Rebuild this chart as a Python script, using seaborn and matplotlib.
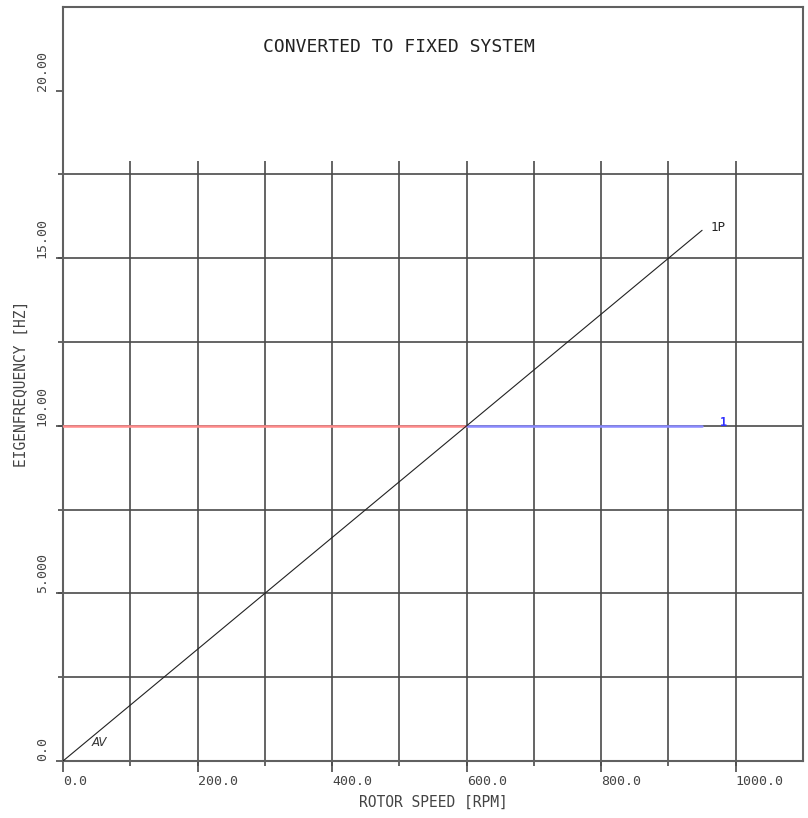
import matplotlib
matplotlib.use("Agg")
import matplotlib.pyplot as plt
import seaborn as sns
import numpy as np
import pandas as pd

# ---- data ----
rpm_1p = [0.0, 950.0]
freq_1p = [0.0, 15.83]
rpm_mode_red = [0.0, 600.0]
rpm_mode_blue = [600.0, 950.0]
freq_mode = [10.0, 10.0]
x_ticks = [0, 200, 400, 600, 800, 1000]
x_tick_labels = ["0.0", "200.0", "400.0", "600.0", "800.0", "1000.0"]
y_ticks = [0, 5, 10, 15, 20]
y_tick_labels = ["0.0", "5.000", "10.00", "15.00", "20.00"]
grid_x = [100, 200, 300, 400, 500, 600, 700, 800, 900, 1000]
grid_y = [2.5, 5.0, 7.5, 10.0, 12.5, 15.0, 17.5]

sns.set_style("white")
plt.rcParams['font.family'] = ['DejaVu Sans Mono', 'DejaVu Sans']

fig = plt.figure(figsize=(8.08, 8.18), dpi=100)
ax = fig.add_axes([63/808, 1-761/818, (803-63)/808, (761-6.7)/818])
ax.set_xlim(0, 1100)
ax.set_ylim(0, 22.5)

gcol = "#4a4a4a"
# grid (only up to 17.5)
ax.vlines(grid_x, -0.15, 17.9, colors=gcol, linewidth=1.2, clip_on=False, zorder=1)
ax.hlines(grid_y, -8, 1100, colors=gcol, linewidth=1.2, clip_on=False, zorder=1)

df1 = pd.DataFrame({"rpm": rpm_1p, "freq": freq_1p})
sns.lineplot(data=df1, x="rpm", y="freq", color="#222222", linewidth=0.8, ax=ax, zorder=4)
dfr = pd.DataFrame({"rpm": rpm_mode_red, "freq": freq_mode})
sns.lineplot(data=dfr, x="rpm", y="freq", color="#ff8a8a", linewidth=1.8, ax=ax, zorder=3)
dfb = pd.DataFrame({"rpm": rpm_mode_blue, "freq": freq_mode})
sns.lineplot(data=dfb, x="rpm", y="freq", color="#8a8aff", linewidth=1.8, ax=ax, zorder=3)

ax.text(963, 15.9, "1P", fontsize=9, color="#222222", ha="left", va="center")
ax.text(42, 0.55, "AV", fontsize=8.5, color="#333333", ha="left", va="center", style="italic",
        family="DejaVu Sans")
ax.text(982, 10.1, "1", fontsize=8.5, color="#3030ff", ha="center", va="center", fontweight="bold")
ax.text(500, 21.3, "CONVERTED TO FIXED SYSTEM", fontsize=13, color="#222222",
        ha="center", va="center")

ax.set_xticks(x_ticks)
ax.set_xticklabels(x_tick_labels, ha="left", fontsize=9.5, color="#444444")
ax.set_yticks(y_ticks)
ax.set_yticklabels(y_tick_labels, rotation=90, fontsize=9.5, color="#444444",
                   va="bottom", ha="center")
ax.tick_params(axis="x", length=8, width=1.2, color=gcol, pad=2, direction="out", bottom=True)
ax.tick_params(axis="y", length=5, width=1.2, color=gcol, pad=10, direction="out", left=True)

for s in ax.spines.values():
    s.set_color("#606060")
    s.set_linewidth(1.5)

ax.set_xlabel("ROTOR SPEED [RPM]", fontsize=10.5, color="#444444", labelpad=5)
ax.set_ylabel("EIGENFREQUENCY [HZ]", fontsize=10.5, color="#444444", labelpad=5)

fig.savefig("out.png", dpi=100)
